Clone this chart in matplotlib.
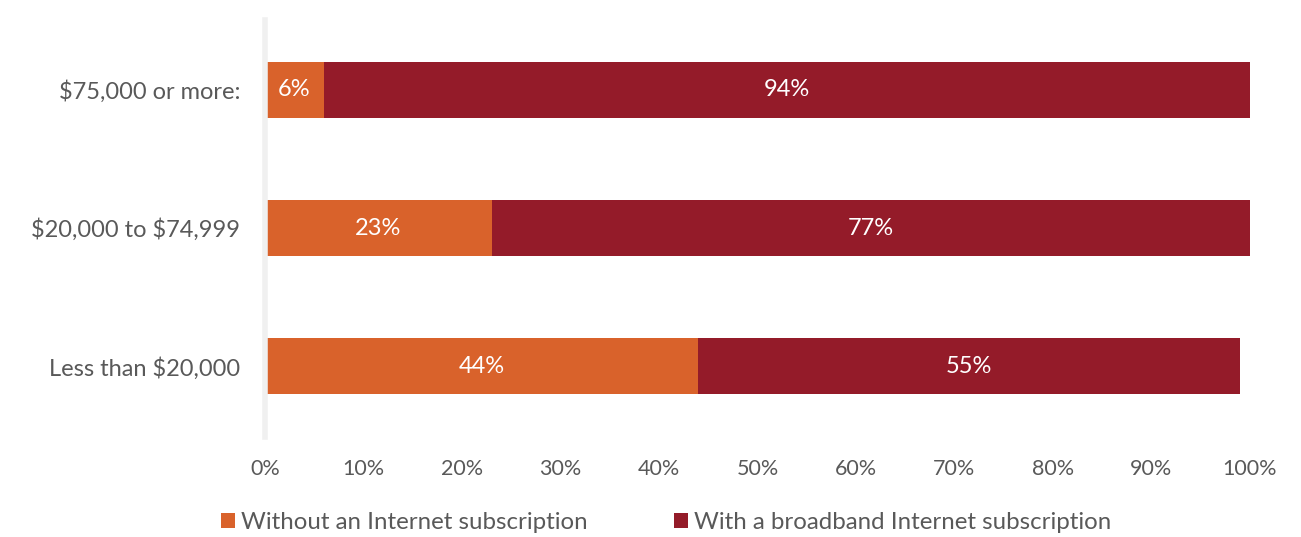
import numpy as np
import matplotlib.pyplot as plt

plt.rcParams['font.family'] = ['Lato', 'DejaVu Sans']
plt.rcParams['text.parse_math'] = False

categories = ['Less than $20,000', '$20,000 to $74,999', '$75,000 or more:']
without_sub = [44, 23, 6]
with_broadband = [55, 77, 94]
series_names = ['Without an Internet subscription', 'With a broadband Internet subscription']
tick_labels = ['0%', '10%', '20%', '30%', '40%', '50%', '60%', '70%', '80%', '90%', '100%']

c_orange = '#D9622B'
c_red = '#941B29'
c_text = '#595959'

fig = plt.figure(figsize=(13.01, 5.37), dpi=100)
ax = fig.add_axes([0.2037, 0.1862, 0.757, 0.7766])

y = np.arange(len(categories))
h = 0.41
b1 = ax.barh(y, without_sub, height=h, color=c_orange, label=series_names[0])
b2 = ax.barh(y, with_broadband, height=h, left=without_sub, color=c_red, label=series_names[1])

# white value labels centred inside each segment
for i in range(len(categories)):
    ax.text(without_sub[i] / 2, y[i], f'{without_sub[i]}%', color='white',
            ha='center', va='center', fontsize=17)
    ax.text(without_sub[i] + with_broadband[i] / 2, y[i], f'{with_broadband[i]}%',
            color='white', ha='center', va='center', fontsize=17)

ax.set_xlim(0, 100)
ax.set_ylim(-0.514, 2.507)
ax.set_xticks(np.arange(0, 101, 10))
ax.set_xticklabels(tick_labels, fontsize=15.5, color=c_text)
ax.set_yticks(y)
ax.set_yticklabels(categories, fontsize=17, color=c_text)
ax.tick_params(axis='both', length=0)
ax.tick_params(axis='x', pad=16)
ax.tick_params(axis='y', pad=18)

for s in ['top', 'right', 'bottom']:
    ax.spines[s].set_visible(False)
ax.spines['left'].set_color('#F0F0F0')
ax.spines['left'].set_linewidth(4)

fig.legend(handles=[b1, b2], loc='center', bbox_to_anchor=(0.512, 0.027), ncol=2,
           frameon=False, fontsize=17.3, handlelength=0.6, handleheight=0.6,
           handletextpad=0.25, columnspacing=3.6, labelcolor=c_text)

fig.savefig('out.png', dpi=100, facecolor='white')
